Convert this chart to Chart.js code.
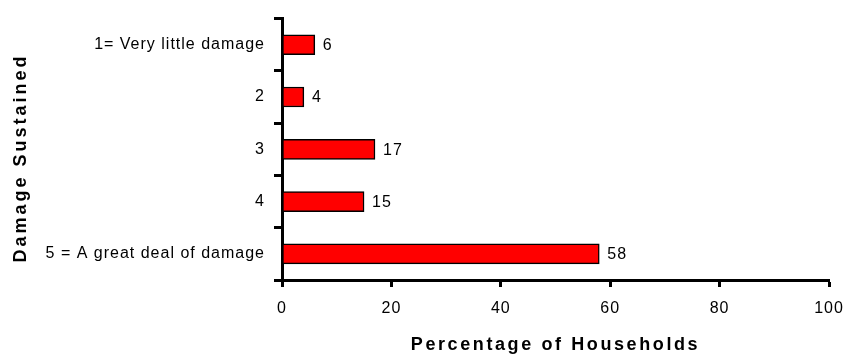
<!DOCTYPE html>
<html>
<head>
<meta charset="utf-8">
<title>Damage Sustained</title>
<script src="https://cdn.jsdelivr.net/npm/chart.js@4/dist/chart.umd.min.js"></script>
<style>
  html, body { margin: 0; padding: 0; background: #fff; }
  #wrap { width: 845px; height: 354px; }
</style>
</head>
<body>
<div id="wrap"><canvas id="damageChart"></canvas></div>
<script>
// damage levels and share of households per level
var damageLevels = ['1= Very little damage', '2', '3', '4', '5 = A great deal of damage'];
var householdPct = [6, 4, 17, 15, 58];
var pctTicks = [0, 20, 40, 60, 80, 100];

var FONT = "'Liberation Sans', Arial, sans-serif";

// slightly loose lettering for all tick text
var looseText = {
  id: 'looseText',
  beforeDraw: function(chart) {
    chart.ctx.letterSpacing = '1px';
  }
};

// value printed just past the end of each bar
var barValues = {
  id: 'barValues',
  afterDatasetsDraw: function(chart) {
    var ctx = chart.ctx;
    var meta = chart.getDatasetMeta(0);
    ctx.save();
    ctx.font = '16px ' + FONT;
    ctx.letterSpacing = '1px';
    ctx.fillStyle = '#000';
    ctx.textAlign = 'left';
    ctx.textBaseline = 'middle';
    meta.data.forEach(function(bar, i) {
      ctx.fillText(String(householdPct[i]), bar.x + 8, bar.y + 1);
    });
    ctx.restore();
  }
};

// axis titles, drawn by hand so they get the wide letter spacing
var axisTitles = {
  id: 'axisTitles',
  afterDraw: function(chart) {
    var ctx = chart.ctx;
    var area = chart.chartArea;
    ctx.save();
    ctx.fillStyle = '#000';
    ctx.textAlign = 'center';
    ctx.textBaseline = 'alphabetic';

    ctx.font = 'bold 18px ' + FONT;
    ctx.letterSpacing = '2.6px';
    ctx.fillText('Percentage of Households', (area.left + area.right) / 2, 350);

    ctx.font = 'bold 18px ' + FONT;
    ctx.letterSpacing = '3px';
    ctx.translate(26, 158);
    ctx.rotate(-Math.PI / 2);
    ctx.fillText('Damage Sustained', 0, 0);
    ctx.restore();
  }
};

var ctx = document.getElementById('damageChart');
var damageChart = new Chart(ctx, {
  type: 'bar',
  data: {
    labels: damageLevels,
    datasets: [{
      data: householdPct,
      backgroundColor: '#ff0000',
      borderColor: '#000',
      borderWidth: 1.5,
      borderSkipped: false,
      barThickness: 20
    }]
  },
  options: {
    indexAxis: 'y',
    responsive: true,
    maintainAspectRatio: false,
    animation: false,
    layout: { padding: { top: 16, right: 16, bottom: 0, left: 0 } },
    plugins: {
      legend: { display: false },
      tooltip: { enabled: false }
    },
    scales: {
      x: {
        min: 0,
        max: 100,
        afterBuildTicks: function(scale) {
          scale.ticks = pctTicks.map(function(v) { return { value: v }; });
        },
        afterFit: function(scale) {
          scale.height = 74;
          scale.paddingLeft = 0;
          scale.paddingRight = 0;
        },
        grid: { drawOnChartArea: false, tickLength: 7, tickWidth: 3, color: '#000' },
        border: { display: true, width: 3, color: '#000' },
        ticks: { color: '#000', font: { family: FONT, size: 16 }, padding: 12, maxRotation: 0 }
      },
      y: {
        afterFit: function(scale) { scale.width = 282; },
        grid: { offset: true, drawOnChartArea: false, tickLength: 8, tickWidth: 3, color: '#000' },
        border: { display: true, width: 3, color: '#000' },
        ticks: { color: '#000', font: { family: FONT, size: 16 }, padding: 9 }
      }
    }
  },
  plugins: [looseText, barValues, axisTitles]
});
</script>
</body>
</html>
